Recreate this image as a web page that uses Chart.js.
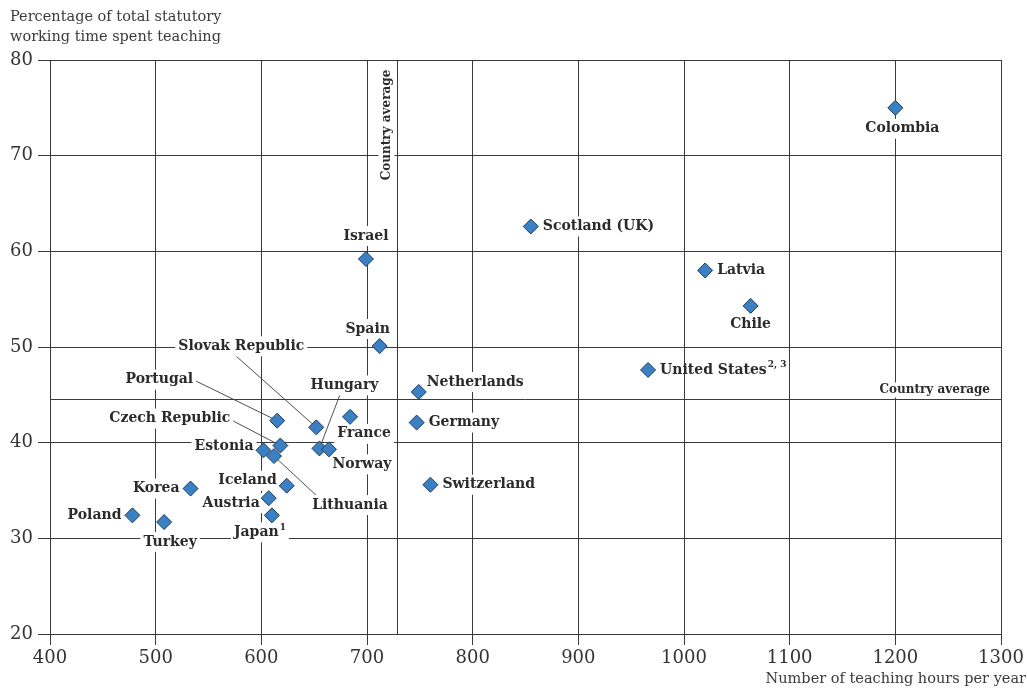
<!DOCTYPE html>
<html>
<head>
<meta charset="utf-8">
<script src="https://cdn.jsdelivr.net/npm/chart.js@4"></script>
<style>
  html, body { margin: 0; padding: 0; background: #fff; }
  canvas { display: block; }
</style>
</head>
<body>
<canvas id="teachChart" width="1027" height="689"></canvas>
<script>
// values
const countries = ['Colombia', 'Scotland (UK)', 'Latvia', 'Chile', 'United States', 'Israel', 'Spain',
    'Netherlands', 'Germany', 'Switzerland', 'Hungary', 'France', 'Norway', 'Slovak Republic',
    'Portugal', 'Czech Republic', 'Estonia', 'Lithuania', 'Iceland', 'Austria', 'Japan', 'Korea',
    'Poland', 'Turkey'];
const teachingHours = [1200, 855, 1020, 1063, 966, 699, 712, 749, 747, 760, 655, 684, 664, 652,
    615, 618, 602, 612, 624, 607, 610, 533, 478, 508];
const teachingShare = [75.0, 62.6, 58.0, 54.3, 47.6, 59.2, 50.1, 45.3, 42.1, 35.6, 39.4, 42.7, 39.3, 41.6,
    42.3, 39.7, 39.2, 38.6, 35.5, 34.2, 32.4, 35.2, 32.4, 31.7];
const footnotes = { 'United States': '2, 3', 'Japan': '1' };

const xTickValues = [400, 500, 600, 700, 800, 900, 1000, 1100, 1200, 1300];
const yTickValues = [20, 30, 40, 50, 60, 70, 80];
const averageHours = 728;
const averageShare = 44.6;

// label placement in pixels relative to the point: [dx, dy, align, leader start dx, dy]
const labelPlacement = {
    'Colombia': [7, 21, 'center'],
    'Scotland (UK)': [12, 0, 'left'],
    'Latvia': [12, 0, 'left'],
    'Chile': [0, 18, 'center'],
    'United States': [12, 0, 'left'],
    'Israel': [0, -23, 'center'],
    'Spain': [-12, -17, 'center'],
    'Netherlands': [8, -10, 'left'],
    'Germany': [12, 0, 'left'],
    'Switzerland': [12, 0, 'left'],
    'Hungary': [25, -63, 'center', 21, -55],
    'France': [14, 17, 'center'],
    'Norway': [33, 15, 'center'],
    'Slovak Republic': [-12, -81, 'right', -81, -72],
    'Portugal': [-84, -41, 'right', -82, -40],
    'Czech Republic': [-50, -27, 'right', -48, -25],
    'Estonia': [-10, -4, 'right'],
    'Lithuania': [76, 49, 'center', 44, 41],
    'Iceland': [-10, -5, 'right'],
    'Austria': [-9, 5, 'right'],
    'Japan': [-38, 17, 'left'],
    'Korea': [-11, 0, 'right'],
    'Poland': [-11, 0, 'right'],
    'Turkey': [6, 20, 'center']
};

const lineColor = '#3a3a3a';
const textColor = '#2b2b2b';
const labelFont = 'bold 14px "DejaVu Serif"';
const supFont = 'bold 9px "DejaVu Serif"';
const titleFont = '14.5px "DejaVu Serif"';

function drawBoxedText(ctx, text, x, y, align, sup, boxed) {
    ctx.font = labelFont;
    const w = ctx.measureText(text).width;
    let supW = 0;
    if (sup) {
        ctx.font = supFont;
        supW = ctx.measureText(sup).width + 1;
        ctx.font = labelFont;
    }
    const total = w + supW;
    let left = x;
    if (align === 'center') left = x - total / 2;
    if (align === 'right') left = x - total;
    if (boxed) {
        ctx.fillStyle = '#fff';
        ctx.fillRect(left - 3, y - 10, total + 6, 20);
    }
    ctx.fillStyle = textColor;
    ctx.textAlign = 'left';
    ctx.textBaseline = 'middle';
    ctx.fillText(text, left, y);
    if (sup) {
        ctx.font = supFont;
        ctx.fillText(sup, left + w + 1, y - 5);
    }
}

const annotationPlugin = {
    id: 'annotations',
    beforeDatasetsDraw(chart) {
        const ctx = chart.ctx;
        const xs = chart.scales.x;
        const ys = chart.scales.y;
        const area = chart.chartArea;
        ctx.save();

        // country average lines
        ctx.strokeStyle = lineColor;
        ctx.lineWidth = 1;
        const ax = Math.round(xs.getPixelForValue(averageHours)) + 0.5;
        const ay = Math.round(ys.getPixelForValue(averageShare)) + 0.5;
        ctx.beginPath();
        ctx.moveTo(ax, area.top);
        ctx.lineTo(ax, area.bottom);
        ctx.moveTo(area.left, ay);
        ctx.lineTo(area.right, ay);
        ctx.stroke();

        // vertical average label
        ctx.save();
        ctx.translate(ax - 11, area.top + 65);
        ctx.rotate(-Math.PI / 2);
        ctx.font = 'bold 12px "DejaVu Serif"';
        const vw = ctx.measureText('Country average').width;
        ctx.fillStyle = '#fff';
        ctx.fillRect(-vw / 2 - 2, -8, vw + 4, 16);
        ctx.fillStyle = textColor;
        ctx.textAlign = 'center';
        ctx.textBaseline = 'middle';
        ctx.fillText('Country average', 0, 0);
        ctx.restore();

        // horizontal average label
        ctx.font = 'bold 12px "DejaVu Serif"';
        const hw = ctx.measureText('Country average').width;
        ctx.fillStyle = '#fff';
        ctx.fillRect(area.right - 11 - hw - 2, ay - 17, hw + 4, 15);
        ctx.fillStyle = textColor;
        ctx.textAlign = 'right';
        ctx.textBaseline = 'middle';
        ctx.fillText('Country average', area.right - 11, ay - 10);

        // leader lines
        ctx.strokeStyle = lineColor;
        ctx.lineWidth = 0.9;
        countries.forEach((name, i) => {
            const p = labelPlacement[name];
            if (p.length < 5) return;
            const px = xs.getPixelForValue(teachingHours[i]);
            const py = ys.getPixelForValue(teachingShare[i]);
            ctx.beginPath();
            ctx.moveTo(px + p[3], py + p[4]);
            ctx.lineTo(px, py);
            ctx.stroke();
        });

        // country labels
        countries.forEach((name, i) => {
            const p = labelPlacement[name];
            const px = xs.getPixelForValue(teachingHours[i]);
            const py = ys.getPixelForValue(teachingShare[i]);
            drawBoxedText(ctx, name, px + p[0], py + p[1], p[2], footnotes[name], name !== 'United States');
        });
        ctx.restore();
    },
    afterDraw(chart) {
        const ctx = chart.ctx;
        ctx.save();
        ctx.font = titleFont;
        ctx.fillStyle = '#3a3a3a';
        ctx.textBaseline = 'middle';
        ctx.textAlign = 'left';
        ctx.fillText('Percentage of total statutory', 10, 17);
        ctx.fillText('working time spent teaching', 10, 37);
        ctx.textAlign = 'right';
        ctx.fillText('Number of teaching hours per year', 1026, 679);
        ctx.restore();
    }
};

new Chart(document.getElementById('teachChart'), {
    type: 'scatter',
    data: {
        datasets: [{
            data: countries.map((c, i) => ({ x: teachingHours[i], y: teachingShare[i] })),
            pointStyle: 'rectRot',
            pointRadius: 7.5,
            pointHoverRadius: 7.5,
            backgroundColor: '#3a80c3',
            borderColor: '#1d3b5a',
            borderWidth: 1
        }]
    },
    options: {
        responsive: false,
        animation: false,
        layout: { padding: { top: 60, right: 26, left: 0, bottom: 0 } },
        plugins: {
            legend: { display: false },
            tooltip: { enabled: false }
        },
        scales: {
            x: {
                type: 'linear',
                min: 400,
                max: 1300,
                afterBuildTicks: s => { s.ticks = xTickValues.map(v => ({ value: v })); },
                afterFit: s => { s.height = 55; },
                ticks: {
                    color: '#333',
                    font: { family: 'DejaVu Serif', size: 18 },
                    padding: 3,
                    maxRotation: 0,
                    callback: v => String(v)
                },
                grid: { color: lineColor, tickLength: 11, lineWidth: 1 },
                border: { color: lineColor }
            },
            y: {
                type: 'linear',
                min: 20,
                max: 80,
                afterBuildTicks: s => { s.ticks = yTickValues.map(v => ({ value: v })); },
                afterFit: s => { s.width = 50; },
                ticks: {
                    color: '#333',
                    font: { family: 'DejaVu Serif', size: 18 },
                    padding: 5,
                    callback: v => String(v)
                },
                grid: { color: lineColor, tickLength: 12, lineWidth: 1 },
                border: { color: lineColor }
            }
        }
    },
    plugins: [annotationPlugin]
});
</script>
</body>
</html>
